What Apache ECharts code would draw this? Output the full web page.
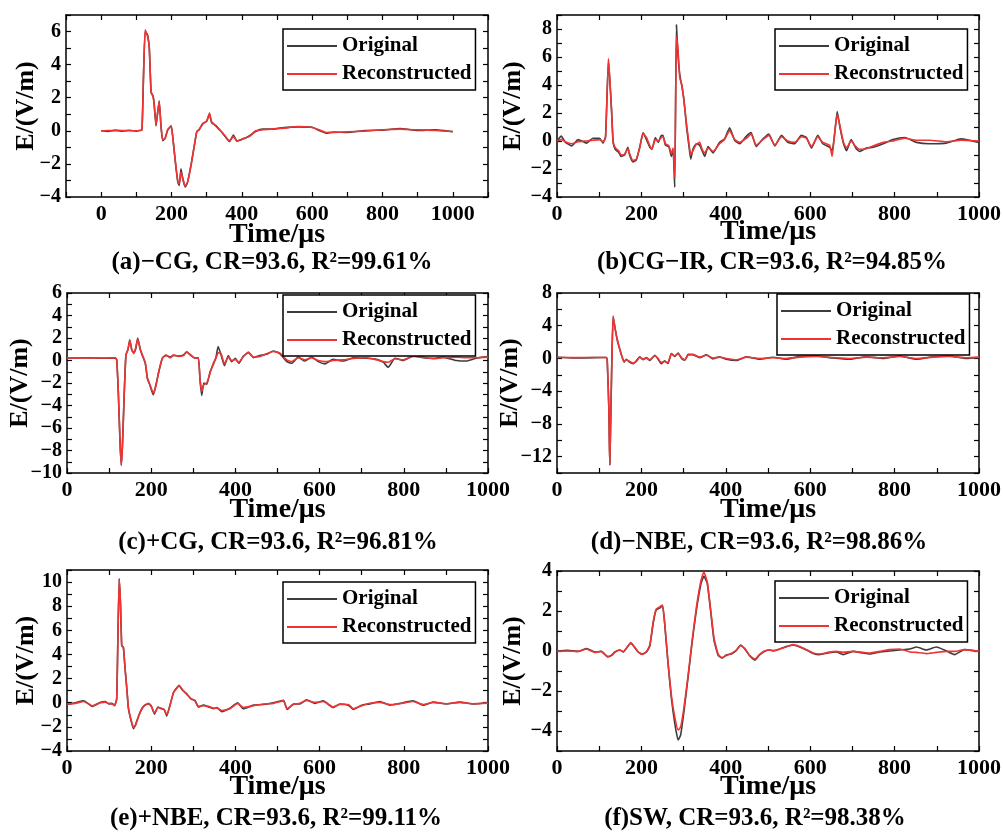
<!DOCTYPE html>
<html>
<head>
<meta charset="utf-8">
<script src="https://cdn.jsdelivr.net/npm/echarts@6/dist/echarts.min.js"></script>
<style>
  html, body { margin: 0; padding: 0; background: #fff; }
  #main { width: 1003px; height: 836px; }
</style>
</head>
<body>
<div id="main"></div>
<script>
// (a) -CG
const tA = [0, 20, 40, 60, 80, 100, 110, 116, 120, 125, 132, 137, 142, 148, 151, 156, 160, 165, 170, 175, 182, 189, 199, 203, 211, 218, 222, 227, 232, 239, 246, 256, 265, 272, 279, 289, 300, 308, 314, 327, 346, 365, 376, 386, 403, 422, 439, 460, 488, 520, 560, 600, 620, 640, 660, 700, 750, 800, 850, 900, 950, 1000];
const origA = [0, -0.04, 0.04, -0.02, 0.03, -0.02, 0.02, 0.05, 3.0, 6.0, 5.8, 4.9, 2.3, 2.1, 1.5, 0.3, 1.0, 1.8, 0.3, -0.6, -0.45, 0.04, 0.3, -0.26, -1.9, -3.1, -3.3, -2.3, -2.9, -3.4, -3.1, -2.0, -0.9, -0.06, 0.1, 0.42, 0.6, 1.0, 0.5, 0.3, -0.16, -0.65, -0.25, -0.62, -0.5, -0.3, -0.04, 0.1, 0.1, 0.2, 0.24, 0.22, 0.02, -0.14, -0.08, -0.1, 0.02, 0.04, 0.14, 0.02, 0.06, -0.06];
const recA = [0, 0.02, 0, 0.02, 0, 0, 0.02, 0.05, 3.0, 6.1, 5.7, 5.0, 2.4, 2.0, 1.6, 0.36, 1.0, 1.8, 0.36, -0.54, -0.45, 0.06, 0.26, -0.24, -1.85, -3.06, -3.2, -2.5, -2.86, -3.36, -3.06, -2.05, -0.85, -0.04, 0.06, 0.46, 0.56, 1.07, 0.56, 0.26, -0.14, -0.6, -0.35, -0.6, -0.48, -0.34, 0.0, 0.06, 0.12, 0.16, 0.26, 0.2, 0.06, -0.1, -0.1, -0.06, -0.02, 0.06, 0.1, 0.06, 0.02, -0.04];

// (b) CG-IR
const tB = [0, 10, 20, 35, 50, 70, 85, 101, 109, 115, 122, 129, 133, 138, 146, 152, 160, 168, 172, 180, 188, 196, 204, 212, 220, 225, 233, 240, 246, 251, 257, 265, 271, 275, 279, 283, 287, 291, 296, 301, 307, 312, 317, 322, 330, 338, 344, 350, 358, 370, 385, 397, 409, 421, 433, 449, 460, 472, 488, 502, 516, 532, 547, 563, 579, 591, 603, 618, 630, 646, 652, 658, 664, 671, 679, 686, 697, 708, 717, 733, 749, 773, 796, 824, 852, 883, 923, 958, 1000];
const origB = [0, 0.35, -0.1, -0.35, 0.1, -0.15, 0.2, 0.2, -0.15, 0.3, 5.8, 2.3, -0.1, -0.6, -0.8, -1.1, -1.0, -0.45, -1.0, -1.5, -1.35, -0.45, 0.6, 0.1, -0.45, -0.6, 0.25, -0.1, 0.35, 0.4, -0.3, -0.4, -1.1, -0.6, -3.3, 8.3, 6.0, 4.7, 3.9, 2.9, 1.0, -0.2, -1.3, -0.6, -0.2, -0.3, -0.7, -1.1, -0.4, -0.85, -0.1, 0.15, 0.95, 0.05, -0.2, 0.35, 0.6, -0.4, 0.15, 0.5, -0.35, 0.4, -0.1, -0.2, 0.4, 0.25, -0.5, 0.4, -0.2, -0.45, -0.7, 0.5, 2.1, 0.9, -0.2, -0.7, 0.1, -0.5, -0.75, -0.5, -0.45, -0.2, 0.1, 0.25, -0.1, -0.2, -0.15, 0.15, -0.1];
const recB = [0, 0.1, -0.05, -0.2, -0.05, 0, 0.05, 0.1, -0.05, 0.2, 5.9, 2.4, 0, -0.48, -0.7, -1.0, -0.95, -0.55, -0.9, -1.4, -1.3, -0.5, 0.55, 0.25, -0.35, -0.55, 0.1, 0, 0.2, 0.3, -0.2, -0.35, -0.9, -0.5, -2.6, 7.5, 6.4, 4.5, 4.0, 2.8, 1.2, 0, -1.0, -0.7, -0.25, -0.1, -0.6, -0.85, -0.5, -0.75, -0.2, 0.1, 0.75, 0.1, -0.1, 0.2, 0.5, -0.3, 0.1, 0.4, -0.3, 0.3, 0, -0.1, 0.3, 0.2, -0.4, 0.3, -0.1, -0.3, -1.1, 0.6, 1.9, 1.0, -0.1, -0.5, 0, -0.4, -0.6, -0.55, -0.35, -0.1, 0, 0.2, 0.05, 0.05, -0.05, 0.05, 0];

// (c) +CG
const tC = [0, 50, 91, 115, 118, 122, 126, 129, 132, 136, 140, 145, 149, 154, 159, 163, 168, 174, 179, 186, 191, 197, 205, 211, 219, 227, 235, 245, 253, 265, 277, 284, 292, 304, 312, 316, 320, 325, 332, 340, 348, 354, 359, 366, 374, 383, 391, 400, 408, 419, 431, 443, 458, 474, 490, 506, 522, 534, 549, 565, 581, 597, 613, 632, 656, 680, 711, 735, 751, 763, 779, 798, 822, 846, 870, 893, 925, 949, 972, 1000];
const origC = [0.2, 0.24, 0.2, 0.22, 0.05, -2.9, -7.3, -9.3, -7.3, -2.9, 0.5, 1.0, 1.85, 0.9, 0.7, 1.0, 2.0, 1.0, 0.45, -0.25, -1.6, -2.2, -3.05, -2.2, -0.85, 0.25, 0.45, 0.3, 0.45, 0.4, 0.5, 0.75, 0.55, 0.2, 0.25, -1.75, -3.1, -2.0, -2.1, -1.0, -0.3, 0.3, 1.25, 0.5, -0.45, 0.45, -0.1, 0.2, -0.25, 0.4, 0.7, 0.25, 0.45, 0.55, 0.85, 0.6, -0.1, -0.25, 0.3, -0.05, 0.3, -0.1, -0.3, 0.1, -0.05, 0.25, 0.2, 0.1, -0.15, -0.6, 0.2, 0.0, 0.4, 0.25, 0.2, 0.3, 0.0, -0.05, 0.2, 0.35];
const recC = [0.22, 0.22, 0.22, 0.22, 0.07, -2.9, -7.3, -9.3, -7.3, -2.9, 0.5, 1.0, 1.8, 0.96, 0.6, 1.1, 1.9, 0.96, 0.5, -0.2, -1.55, -2.15, -2.9, -2.3, -0.8, 0.22, 0.5, 0.22, 0.5, 0.37, 0.43, 0.8, 0.5, 0.22, 0.22, -1.7, -2.75, -2.15, -2.0, -1.1, -0.2, 0.22, 0.7, 0.6, -0.3, 0.3, 0, 0.1, -0.15, 0.35, 0.75, 0.3, 0.36, 0.6, 0.8, 0.65, 0.05, -0.1, 0.24, 0.06, 0.24, 0, -0.1, 0, 0.06, 0.18, 0.24, 0.06, -0.1, -0.15, 0.15, 0.06, 0.36, 0.3, 0.15, 0.24, 0.3, 0.24, 0.24, 0.3];

// (d) -NBE
const tD = [0, 40, 89, 117, 119, 123, 125, 127, 130, 133, 138, 143, 149, 154, 159, 164, 172, 180, 188, 196, 204, 212, 220, 232, 239, 247, 255, 263, 271, 279, 287, 296, 303, 311, 322, 338, 354, 370, 385, 401, 425, 449, 480, 512, 543, 575, 615, 654, 694, 733, 773, 812, 852, 891, 930, 970, 1000];
const origD = [0.15, 0.05, 0.1, 0.12, -0.16, -6.3, -13.0, -8.3, -0.16, 5.1, 3.6, 2.2, 1.1, 0.2, -0.45, -0.1, -0.45, -0.65, -0.3, 0.2, -0.15, 0.1, -0.25, 0.4, -0.05, -0.65, -0.3, -0.6, 0.6, 0.25, 0.65, -0.05, -0.2, 0.5, 0.45, 0.1, 0.45, -0.05, 0.2, -0.1, -0.25, 0.2, -0.1, 0.15, -0.1, 0.25, 0.3, 0.05, -0.1, 0.2, 0.0, 0.3, -0.1, 0.2, 0.3, 0.0, 0.1];
const recD = [0.12, 0.1, 0.12, 0.12, -0.16, -6.3, -13.0, -8.3, -0.16, 5.2, 3.5, 2.3, 1.06, 0.24, -0.37, -0.16, -0.37, -0.57, -0.37, 0.16, -0.08, 0.04, -0.16, 0.33, 0.04, -0.5, -0.37, -0.5, 0.57, 0.33, 0.57, 0.04, -0.16, 0.45, 0.5, 0.16, 0.4, 0.04, 0.16, 0, -0.16, 0.16, 0, 0.08, 0, 0.16, 0.24, 0.12, 0, 0.16, 0.08, 0.24, 0, 0.16, 0.24, 0.08, 0.16];

// (e) +NBE
const tE = [0, 20, 40, 60, 80, 91, 99, 107, 113, 118, 121, 124, 127, 130, 134, 138, 142, 146, 152, 158, 163, 170, 178, 186, 194, 200, 208, 216, 224, 231, 237, 245, 253, 261, 266, 274, 284, 295, 304, 312, 324, 336, 348, 356, 368, 387, 405, 419, 443, 466, 490, 514, 523, 538, 553, 569, 589, 609, 632, 648, 668, 680, 700, 719, 743, 767, 791, 822, 846, 870, 901, 933, 964, 1000];
const origE = [-0.15, 0.0, 0.15, -0.3, 0.05, 0.1, -0.1, -0.05, -0.25, 0.3, 5.6, 10.3, 8.2, 4.7, 4.6, 2.8, 1.2, -0.5, -1.45, -2.15, -1.8, -1.1, -0.5, -0.15, -0.1, -0.25, -0.95, -0.35, -0.5, -0.55, -1.1, -0.15, 0.85, 1.25, 1.45, 1.05, 0.75, 0.3, 0.2, -0.35, -0.2, -0.35, -0.5, -0.4, -0.75, -0.45, 0.0, -0.5, -0.2, -0.15, 0.0, 0.2, -0.55, -0.1, -0.1, 0.25, -0.05, 0.15, -0.4, -0.1, -0.2, -0.55, -0.2, -0.1, 0.1, -0.2, -0.05, 0.15, -0.2, 0.05, -0.1, 0.05, -0.1, 0.0];
const recE = [-0.1, -0.05, 0.1, -0.25, 0.0, 0.05, -0.05, -0.1, -0.2, 0.3, 5.6, 10.2, 8.3, 4.8, 4.5, 2.8, 1.2, -0.45, -1.4, -2.05, -1.85, -1.15, -0.45, -0.2, -0.05, -0.3, -0.85, -0.4, -0.45, -0.6, -1.0, -0.2, 0.85, 1.2, 1.4, 1.1, 0.7, 0.35, 0.15, -0.3, -0.25, -0.3, -0.45, -0.45, -0.65, -0.5, -0.05, -0.4, -0.25, -0.1, -0.05, 0.15, -0.5, -0.15, -0.05, 0.18, 0.03, 0.1, -0.35, -0.15, -0.15, -0.5, -0.25, -0.05, 0.03, -0.15, -0.08, 0.1, -0.15, 0.03, -0.08, 0.03, -0.08, -0.03];

// (f) SW
const tF = [0, 25, 50, 70, 90, 105, 120, 130, 137, 149, 157, 167, 175, 183, 192, 202, 212, 220, 228, 235, 243, 250, 255, 263, 271, 279, 287, 293, 301, 311, 320, 330, 341, 348, 356, 364, 372, 382, 391, 401, 413, 425, 435, 445, 457, 469, 480, 492, 504, 512, 528, 543, 559, 575, 591, 607, 622, 642, 662, 678, 701, 725, 741, 765, 788, 812, 836, 852, 875, 899, 923, 942, 966, 1000];
const origF = [0.0, 0.03, -0.02, 0.12, -0.05, -0.02, -0.3, -0.2, -0.05, 0.05, -0.05, 0.2, 0.4, 0.2, -0.05, -0.15, -0.05, 0.25, 1.4, 2.05, 2.15, 2.25, 1.4, -0.6, -2.35, -3.6, -4.45, -4.2, -3.0, -1.25, 0.4, 2.0, 3.35, 3.73, 3.4, 2.0, 0.55, -0.22, -0.35, -0.2, -0.15, 0.03, 0.3, 0.1, -0.25, -0.45, -0.2, -0.02, 0.05, 0.02, 0.1, 0.22, 0.3, 0.2, 0.05, -0.12, -0.18, -0.1, -0.05, -0.18, -0.02, -0.1, -0.15, -0.05, 0.0, 0.05, 0.1, 0.2, 0.05, 0.2, 0.0, -0.18, 0.07, -0.02];
const recF = [-0.02, 0.0, -0.02, 0.1, -0.07, -0.02, -0.27, -0.22, -0.07, 0.05, -0.03, 0.22, 0.42, 0.22, -0.03, -0.17, -0.03, 0.3, 1.47, 2.1, 2.2, 2.3, 1.47, -0.54, -2.2, -3.3, -3.95, -3.8, -2.8, -1.15, 0.5, 2.14, 3.5, 3.95, 3.45, 2.1, 0.65, -0.17, -0.33, -0.23, -0.12, 0.05, 0.27, 0.13, -0.23, -0.4, -0.17, 0, 0.05, 0, 0.1, 0.2, 0.32, 0.23, 0.07, -0.1, -0.15, -0.07, -0.02, -0.07, -0.02, -0.07, -0.1, -0.02, 0.07, 0.1, -0.05, -0.07, -0.13, -0.07, -0.02, -0.02, 0.07, -0.02];

const captions = [
  '(a)\u2212CG, CR=93.6, R\u00b2=99.61%',
  '(b)CG\u2212IR, CR=93.6, R\u00b2=94.85%',
  '(c)+CG, CR=93.6, R\u00b2=96.81%',
  '(d)\u2212NBE, CR=93.6, R\u00b2=98.86%',
  '(e)+NBE, CR=93.6, R\u00b2=99.11%',
  '(f)SW, CR=93.6, R\u00b2=98.38%',
];
const seriesNames = ['Original', 'Reconstructed'];

const FONT = '"Liberation Serif", "Times New Roman", serif';
const colors = ['#3c3c3c', '#f03434'];

// layout for each panel: grid box, axis ranges [min, max, tick step, label step]
const panels = [
  { t: tA, o: origA, r: recA, grid: [66, 15, 422, 182], x: [-100, 1100], y: [-4, 7, 1, 2], legend: [283, 29], cap: [272, 263], yGap: 27, xGap: 24 },
  { t: tB, o: origB, r: recB, grid: [557, 15, 422, 182], x: [0, 1000], y: [-4, 9, 1, 2], legend: [775, 29], cap: [772, 263], yGap: 31, xGap: 21 },
  { t: tC, o: origC, r: recC, grid: [67, 293, 421, 180], x: [0, 1000], y: [-10, 6, 1, 2], legend: [283, 295], cap: [278, 543], yGap: 34, xGap: 23 },
  { t: tD, o: origD, r: recD, grid: [557, 293, 422, 180], x: [0, 1000], y: [-14, 8, 2, 4], legend: [777, 294], cap: [759, 543], yGap: 34, xGap: 23 },
  { t: tE, o: origE, r: recE, grid: [67, 570, 421, 181], x: [0, 1000], y: [-4, 11, 1, 2], legend: [283, 582], cap: [276, 819], yGap: 28, xGap: 22 },
  { t: tF, o: origF, r: recF, grid: [557, 571, 422, 180], x: [0, 1000], y: [-5, 4, 1, 2], legend: [775, 581], cap: [755, 819], yGap: 31, xGap: 22 },
];

const xLabelStyle = { fontFamily: FONT, fontWeight: 'bold', fontSize: 22, color: '#000' };
const yLabelStyle = { fontFamily: FONT, fontWeight: 'bold', fontSize: 20, color: '#000' };
const xNameStyle = { fontFamily: FONT, fontWeight: 'bold', fontSize: 28, color: '#000' };
const yNameStyle = { fontFamily: FONT, fontWeight: 'bold', fontSize: 26, color: '#000' };
const lineStyle = { color: '#000', width: 1.5 };
const tickStyle = { inside: true, length: 5, lineStyle: { color: '#000', width: 1.2 } };

const fmtNum = (v) => String(v).replace('-', '\u2212');

const myChart = echarts.init(document.getElementById('main'));

const grid = [];
const xAxis = [];
const yAxis = [];
const series = [];
const legend = [];
const graphic = [];

panels.forEach((p, i) => {
  grid.push({
    left: p.grid[0], top: p.grid[1], width: p.grid[2], height: p.grid[3],
    containLabel: false, outerBoundsMode: 'none',
  });

  ['bottom', 'top'].forEach((pos) => {
    const main = pos === 'bottom';
    xAxis.push({
      type: 'value', gridIndex: i, position: pos,
      min: p.x[0], max: p.x[1], interval: 100,
      axisLine: { onZero: false, lineStyle },
      axisTick: tickStyle,
      splitLine: { show: false },
      axisLabel: main ? {
        ...xLabelStyle, margin: 6, showMinLabel: true, showMaxLabel: true,
        formatter: (v) => {
          const n = Math.round(v);
          return n >= 0 && n <= 1000 && n % 200 === 0 ? String(n) : '';
        },
      } : { show: false },
      name: main ? 'Time/\u03bcs' : '',
      nameLocation: 'middle', nameGap: p.xGap,
      nameMoveOverlap: false,
      nameTextStyle: xNameStyle,
    });
  });

  ['left', 'right'].forEach((pos) => {
    const main = pos === 'left';
    yAxis.push({
      type: 'value', gridIndex: i, position: pos,
      min: p.y[0], max: p.y[1], interval: p.y[2],
      axisLine: { onZero: false, lineStyle },
      axisTick: tickStyle,
      splitLine: { show: false },
      axisLabel: main ? {
        ...yLabelStyle, margin: 5,
        formatter: (v) => {
          const n = Math.round(v);
          return n % p.y[3] === 0 ? fmtNum(n) : '';
        },
      } : { show: false },
      name: main ? 'E/(V/m)' : '',
      nameLocation: 'middle', nameGap: p.yGap,
      nameMoveOverlap: false,
      nameTextStyle: yNameStyle,
    });
  });

  [p.o, p.r].forEach((vals, k) => {
    series.push({
      name: seriesNames[k],
      type: 'line',
      xAxisIndex: 2 * i,
      yAxisIndex: 2 * i,
      symbol: 'none',
      smooth: 0.15,
      color: colors[k],
      lineStyle: { width: 1.6, color: colors[k] },
      z: 2 + k,
      data: p.t.map((t, j) => [t, vals[j]]),
    });
  });

  legend.push({
    left: p.legend[0], top: p.legend[1],
    orient: 'vertical',
    data: seriesNames,
    icon: 'rect', itemWidth: 50, itemHeight: 2, itemGap: 6,
    padding: [6, 4, 5, 4],
    borderColor: '#000', borderWidth: 1.5,
    backgroundColor: '#fff',
    textStyle: { fontFamily: FONT, fontWeight: 'bold', fontSize: 21, lineHeight: 22, color: '#000' },
    selectedMode: false,
  });

  graphic.push({
    type: 'text',
    x: p.cap[0], y: p.cap[1],
    style: {
      text: captions[i],
      font: 'bold 25px ' + FONT,
      fill: '#000',
      align: 'center', verticalAlign: 'middle',
      textAlign: 'center', textVerticalAlign: 'middle',
    },
  });
});

const option = {
  backgroundColor: '#fff',
  animation: false,
  grid, xAxis, yAxis, series, legend, graphic,
};

myChart.setOption(option);
</script>
</body>
</html>
